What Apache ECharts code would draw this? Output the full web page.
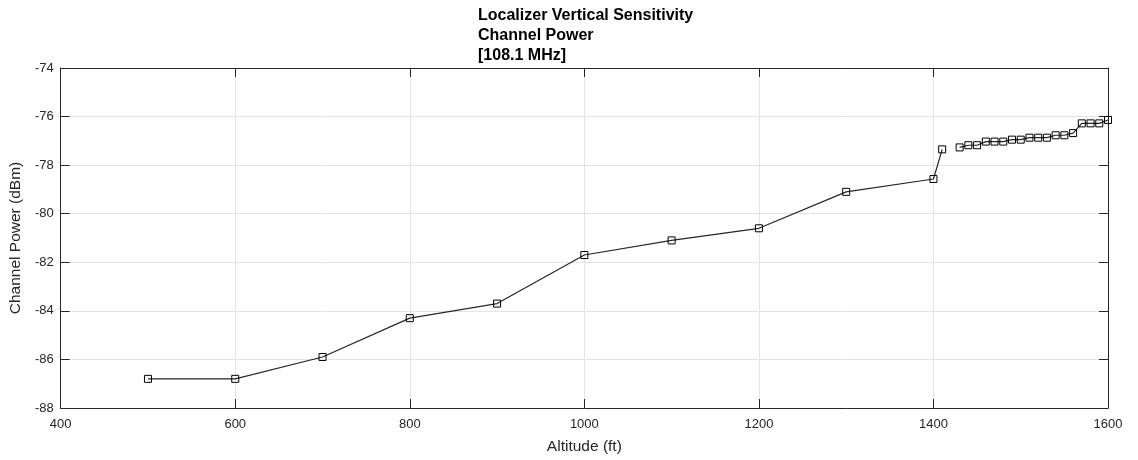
<!DOCTYPE html>
<html>
<head>
<meta charset="utf-8">
<script src="https://cdn.jsdelivr.net/npm/echarts@6/dist/echarts.min.js"></script>
<style>
  html, body { margin: 0; padding: 0; background: #ffffff; }
  #chart { width: 1138px; height: 460px; }
</style>
</head>
<body>
<div id="chart"></div>
<script>
// Sweep below the 1410 ft reading (continuous run)
const altitudeLow = [500, 600, 700, 800, 900, 1000, 1100, 1200, 1300, 1400, 1410];
const powerLow = [-86.8, -86.8, -85.9, -84.3, -83.7, -81.7, -81.1, -80.6, -79.1, -78.57, -77.35];

// Fine-step sweep from 1430 ft up (separate run, not joined to the first)
const altitudeHigh = [1430, 1440, 1450, 1460, 1470, 1480, 1490, 1500, 1510, 1520, 1530, 1540, 1550, 1560, 1570, 1580, 1590, 1600];
const powerHigh = [-77.27, -77.18, -77.18, -77.03, -77.03, -77.03, -76.95, -76.95, -76.87, -76.87, -76.87, -76.77, -76.77, -76.68, -76.28, -76.28, -76.28, -76.14];

const xTicks = { min: 400, max: 1600, interval: 200 };
const yTicks = { min: -88, max: -74, interval: 2 };

const FONT = '"Liberation Sans", Arial, Helvetica, sans-serif';
const INK = '#262626';
const GRID = '#e3e3e3';

function pairs(xs, ys) { return xs.map((x, i) => [x, ys[i]]); }

function lineSeries(data) {
  return {
    type: 'line',
    data: data,
    xAxisIndex: 0,
    yAxisIndex: 0,
    symbol: 'rect',
    symbolSize: 7,
    showAllSymbol: true,
    lineStyle: { color: '#262626', width: 1.2 },
    itemStyle: { color: 'rgba(255,255,255,0)', borderColor: '#000000', borderWidth: 1 },
    emphasis: { disabled: true },
    z: 5
  };
}

const axisCommon = {
  axisLine: { show: true, lineStyle: { color: INK, width: 1 } },
  axisTick: { show: true, inside: true, length: 9, lineStyle: { color: INK, width: 1 } }
};

const plainNumber = v => String(v);

const chart = echarts.init(document.getElementById('chart'), null, { renderer: 'canvas' });
chart.setOption({
  animation: false,
  backgroundColor: '#ffffff',
  title: {
    text: 'Localizer Vertical Sensitivity\nChannel Power\n[108.1 MHz]',
    left: 473,
    top: 1,
    textAlign: 'left',
    textStyle: { fontFamily: FONT, fontSize: 16, fontWeight: 'bold', color: '#000000', lineHeight: 20 }
  },
  grid: { left: 58, right: 30, top: 68, bottom: 52, containLabel: false },
  xAxis: [
    Object.assign({}, axisCommon, {
      type: 'value', position: 'bottom',
      min: xTicks.min, max: xTicks.max, interval: xTicks.interval,
      name: 'Altitude (ft)', nameLocation: 'middle', nameGap: 31,
      nameTextStyle: { fontFamily: FONT, fontSize: 15.5, color: INK },
      axisLabel: { fontFamily: FONT, fontSize: 13, color: INK, margin: 10, formatter: plainNumber },
      splitLine: { show: true, lineStyle: { color: GRID, width: 1 } }
    }),
    Object.assign({}, axisCommon, {
      type: 'value', position: 'top',
      min: xTicks.min, max: xTicks.max, interval: xTicks.interval,
      axisLabel: { show: false },
      splitLine: { show: false }
    })
  ],
  yAxis: [
    Object.assign({}, axisCommon, {
      type: 'value', position: 'left',
      min: yTicks.min, max: yTicks.max, interval: yTicks.interval,
      name: 'Channel Power (dBm)', nameLocation: 'middle', nameGap: 33,
      nameTextStyle: { fontFamily: FONT, fontSize: 15.5, color: INK },
      axisLabel: { fontFamily: FONT, fontSize: 13, color: INK, margin: 7, formatter: plainNumber },
      splitLine: { show: true, lineStyle: { color: GRID, width: 1 } }
    }),
    Object.assign({}, axisCommon, {
      type: 'value', position: 'right',
      min: yTicks.min, max: yTicks.max, interval: yTicks.interval,
      axisLabel: { show: false },
      splitLine: { show: false }
    })
  ],
  series: [
    lineSeries(pairs(altitudeLow, powerLow)),
    lineSeries(pairs(altitudeHigh, powerHigh))
  ]
});
</script>
</body>
</html>
